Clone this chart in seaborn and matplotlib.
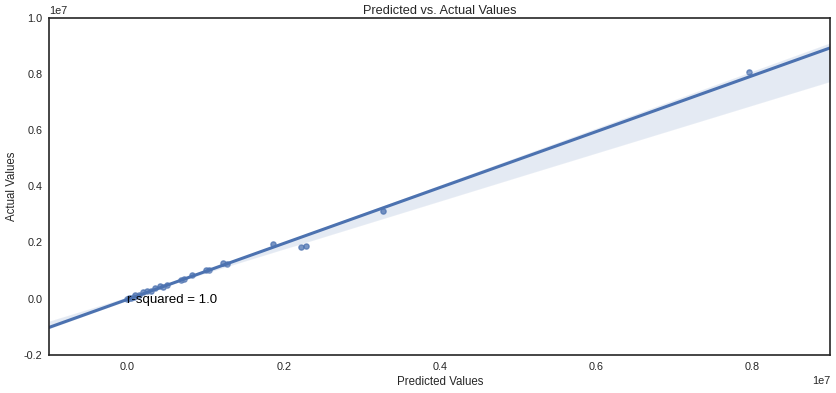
import numpy as np
import pandas as pd
import matplotlib
matplotlib.use("Agg")
import matplotlib.pyplot as plt
from matplotlib.ticker import MultipleLocator, ScalarFormatter
import seaborn as sns

# predicted vs actual values (in units of 1e6)
predicted = [0.0, 0.02, 0.05, 0.08, 0.10, 0.15, 0.20, 0.25, 0.30, 0.35, 0.42, 0.45,
             0.50, 0.68, 0.72, 0.83, 1.00, 1.05, 1.22, 1.27, 1.86, 2.22, 2.28, 3.27, 7.96]
actual = [0.0, 0.03, 0.01, 0.06, 0.12, 0.14, 0.22, 0.28, 0.27, 0.38, 0.45, 0.43,
          0.48, 0.66, 0.70, 0.86, 1.03, 1.02, 1.26, 1.24, 1.93, 1.83, 1.88, 3.12, 8.08]
r_squared_label = "r-squared = 1.0"

df = pd.DataFrame({"Predicted": np.array(predicted) * 1e6,
                   "Actual": np.array(actual) * 1e6})

sns.set_theme(style="white")
plt.rcParams['font.family'] = ['Liberation Sans', 'DejaVu Sans']
plt.rcParams['axes.edgecolor'] = '#262626'
plt.rcParams['axes.unicode_minus'] = False

fig, ax = plt.subplots(figsize=(8.37, 3.93), dpi=100)
ax.set_xlim(-1e6, 9e6)
ax.set_ylim(-2e6, 1e7)
sns.regplot(data=df, x="Predicted", y="Actual", ax=ax, truncate=False, seed=3,
            color="#4C72B0", scatter_kws={"s": 14, "alpha": 0.75},
            line_kws={"linewidth": 2.2})
ax.set_xlim(-1e6, 9e6)
ax.set_ylim(-2e6, 1e7)

# fixed 1e7 offset on both axes
for axis in (ax.xaxis, ax.yaxis):
    axis.set_major_locator(MultipleLocator(2e6))
    fmt = ScalarFormatter()
    fmt.set_powerlimits((7, 7))
    axis.set_major_formatter(fmt)

ax.text(0, -0.15e6, r_squared_label, fontsize=9.5, color="black")
ax.set_title("Predicted vs. Actual Values", fontsize=9.2, pad=3)
ax.set_xlabel("Predicted Values", fontsize=8.3, labelpad=3)
ax.set_ylabel("Actual Values", fontsize=8.3, labelpad=4)
ax.tick_params(labelsize=7.8, length=0, pad=5)
ax.xaxis.get_offset_text().set_fontsize(7.8)
ax.yaxis.get_offset_text().set_fontsize(7.8)
for s in ax.spines.values():
    s.set_linewidth(1.2)

plt.subplots_adjust(left=0.059, right=0.992, top=0.955, bottom=0.097)
plt.savefig("out.png")
